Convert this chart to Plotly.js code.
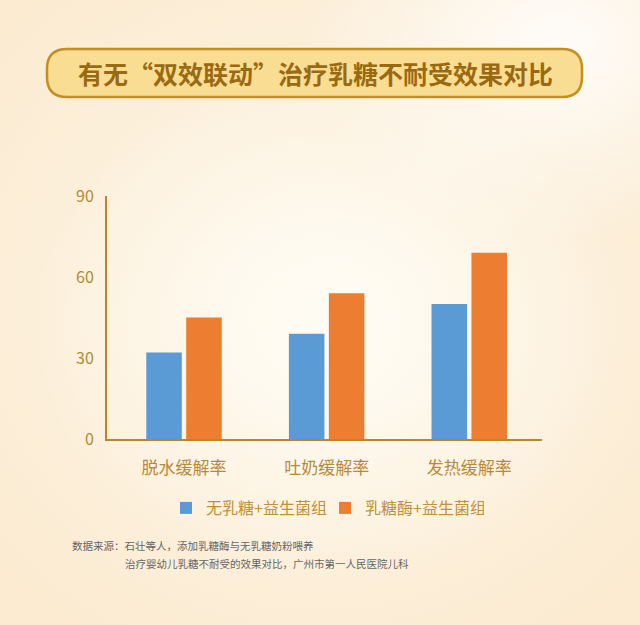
<!DOCTYPE html>
<html>
<head>
<meta charset="utf-8">
<script src="https://cdn.plot.ly/plotly-3.0.1.min.js"></script>
<style>
  html, body { margin: 0; padding: 0; }
  body {
    width: 640px; height: 625px; overflow: hidden;
    background:
      radial-gradient(ellipse 260px 200px at 560px 40px, rgba(255,255,255,0.85), rgba(255,255,255,0) 100%),
      radial-gradient(ellipse 300px 260px at 330px 330px, rgba(255,253,246,0.9), rgba(255,253,246,0) 100%),
      radial-gradient(ellipse 520px 480px at 320px 300px, #fdf6e8, #fbe9cd 100%);
  }
  #plot { width: 640px; height: 625px; }
</style>
</head>
<body>
<div id="plot"></div>
<script>
var categories = ['脱水缓解率', '吐奶缓解率', '发热缓解率'];
var seriesNames = ['无乳糖+益生菌组', '乳糖酶+益生菌组'];
var noLactose = [32, 39, 50];
var lactase = [45, 54, 69];
var yTicks = [0, 30, 60, 90];

var font = '"Noto Sans CJK SC", "Noto Sans", sans-serif';

// plot area in pixels
var L = 107, R = 542, T = 196, B = 439;
function px(x) { return (x - L) / (R - L); }
function py(y) { return (B - y) / (B - T); }

// rounded box behind the title
function roundRect(x0, y0, x1, y1, r) {
    return 'M' + px(x0 + r) + ',' + py(y0) +
        ' L' + px(x1 - r) + ',' + py(y0) +
        ' Q' + px(x1) + ',' + py(y0) + ' ' + px(x1) + ',' + py(y0 + r) +
        ' L' + px(x1) + ',' + py(y1 - r) +
        ' Q' + px(x1) + ',' + py(y1) + ' ' + px(x1 - r) + ',' + py(y1) +
        ' L' + px(x0 + r) + ',' + py(y1) +
        ' Q' + px(x0) + ',' + py(y1) + ' ' + px(x0) + ',' + py(y1 - r) +
        ' L' + px(x0) + ',' + py(y0 + r) +
        ' Q' + px(x0) + ',' + py(y0) + ' ' + px(x0 + r) + ',' + py(y0) + ' Z';
}

var data = [
    {
        type: 'bar', name: seriesNames[0],
        x: categories, y: noLactose,
        marker: {color: '#5b9bd5'},
        hoverinfo: 'none'
    },
    {
        type: 'bar', name: seriesNames[1],
        x: categories, y: lactase,
        marker: {color: '#ed7d31'},
        hoverinfo: 'none'
    }
];

var layout = {
    width: 640, height: 625,
    margin: {l: L, r: 640 - R, t: T, b: 625 - B, pad: 0},
    paper_bgcolor: 'rgba(0,0,0,0)',
    plot_bgcolor: 'rgba(0,0,0,0)',
    barmode: 'group',
    bargap: 0.44,
    bargroupgap: 0.11,
    showlegend: true,
    legend: {
        orientation: 'h',
        x: px(166), y: py(491), xanchor: 'left', yanchor: 'top',
        font: {family: font, size: 16, color: '#c0913a'},
        entrywidth: 114, entrywidthmode: 'pixels',
        itemclick: false, itemdoubleclick: false,
        traceorder: 'normal'
    },
    xaxis: {
        type: 'category',
        range: [-0.54, 2.51],
        showline: true, linecolor: '#b8862b', linewidth: 2,
        showgrid: false, zeroline: false, ticks: '',
        ticklabelstandoff: 13,
        tickfont: {family: font, size: 17, color: '#b8893a'},
        fixedrange: true
    },
    yaxis: {
        range: [0, 90],
        tickvals: yTicks,
        showline: true, linecolor: '#b8862b', linewidth: 2,
        showgrid: false, zeroline: false, ticks: '',
        ticklabelstandoff: 8,
        tickfont: {family: font, size: 16, color: '#b08a35'},
        fixedrange: true
    },
    shapes: [
        {
            type: 'path', xref: 'paper', yref: 'paper',
            path: roundRect(47, 49, 582, 97, 20),
            fillcolor: '#f9dd92',
            line: {color: '#c3901f', width: 2.5},
            layer: 'below'
        }
    ],
    annotations: [
        {
            xref: 'paper', yref: 'paper',
            x: px(315), y: py(73), xanchor: 'center', yanchor: 'middle',
            text: '<b>有无“双效联动”治疗乳糖不耐受效果对比</b>',
            showarrow: false,
            font: {family: font, size: 25, color: '#9a6a12'}
        },
        {
            xref: 'paper', yref: 'paper',
            x: px(70), y: py(545), xanchor: 'left', yanchor: 'middle',
            text: '数据来源：石壮等人，添加乳糖酶与无乳糖奶粉喂养',
            showarrow: false,
            font: {family: font, size: 10.5, color: '#666666'}
        },
        {
            xref: 'paper', yref: 'paper',
            x: px(123), y: py(563), xanchor: 'left', yanchor: 'middle',
            text: '治疗婴幼儿乳糖不耐受的效果对比，广州市第一人民医院儿科',
            showarrow: false,
            font: {family: font, size: 10.5, color: '#666666'}
        }
    ]
};

Plotly.newPlot('plot', data, layout, {displayModeBar: false, staticPlot: true});
</script>
</body>
</html>
